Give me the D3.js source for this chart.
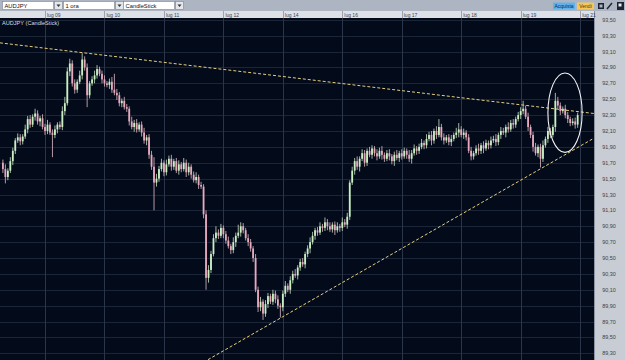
<!DOCTYPE html>
<html>
<head>
<meta charset="utf-8">
<script src="https://cdn.jsdelivr.net/npm/d3@7"></script>
<style>
  body { margin: 0; background: #030a1a; overflow: hidden; }
  svg { display: block; font-family: "Liberation Sans", Arial, sans-serif; }
</style>
</head>
<body>
<div id="container"></div>
<script>
// AUD/JPY, 1 ora - hourly closes
let firstOpen = 91.70;
let closes = [
  91.62, 91.52, 91.60, 91.72, 91.85, 91.98, 92.02, 91.97, 92.03, 92.12,
  92.25, 92.18, 92.28, 92.32, 92.22, 92.26, 92.15, 92.10, 92.18, 92.08,
  92.05, 92.12, 92.18, 92.15, 92.35, 92.45, 92.85, 92.95, 92.70, 92.62,
  92.72, 92.80, 93.00, 92.90, 92.55, 92.70, 92.75, 92.80, 92.88, 92.82,
  92.75, 92.70, 92.68, 92.72, 92.62, 92.58, 92.55, 92.45, 92.48, 92.40,
  92.38, 92.22, 92.15, 92.20, 92.12, 92.18, 92.08, 91.98, 92.02, 91.80,
  91.65, 91.45, 91.50, 91.62, 91.70, 91.58, 91.68, 91.75, 91.65, 91.72,
  91.60, 91.68, 91.62, 91.70, 91.58, 91.65, 91.55, 91.48, 91.52, 91.42,
  91.40, 91.05, 90.25, 90.35, 90.55, 90.75, 90.82, 90.78, 90.88, 90.80,
  90.72, 90.65, 90.60, 90.70, 90.78, 90.82, 90.90, 90.85, 90.75, 90.70,
  90.62, 90.50, 90.10, 89.88, 89.95, 89.80, 89.92, 90.02, 89.95, 90.05,
  89.98, 89.90, 89.88, 90.05, 90.15, 90.10, 90.22, 90.30, 90.28, 90.38,
  90.45, 90.42, 90.55, 90.62, 90.70, 90.78, 90.85, 90.82, 90.90, 90.88,
  90.95, 90.90, 90.86, 90.92, 90.85, 90.90, 90.88, 90.95, 90.92, 91.02,
  91.45, 91.60, 91.72, 91.65, 91.75, 91.82, 91.70, 91.85, 91.80, 91.88,
  91.82, 91.78, 91.85, 91.80, 91.75, 91.82, 91.78, 91.72, 91.80, 91.76,
  91.82, 91.78, 91.85, 91.80, 91.75, 91.82, 91.88, 91.85, 91.90, 91.95,
  91.92, 92.00, 92.05, 91.98, 92.10, 92.05, 92.15, 92.02, 91.98, 92.02,
  91.96, 92.00, 92.05, 92.08, 92.12, 92.05, 92.08, 92.02, 91.85, 91.78,
  91.82, 91.88, 91.85, 91.92, 91.88, 91.95, 91.92, 91.98, 92.00, 91.96,
  92.05, 92.10, 92.08, 92.15, 92.12, 92.20, 92.18, 92.25, 92.30, 92.35,
  92.38, 92.28, 92.15, 92.05, 91.90, 91.82, 91.90, 91.75, 91.92, 92.00,
  92.10, 92.05, 92.15, 92.48, 92.42, 92.35, 92.38, 92.30, 92.25, 92.20,
  92.22, 92.18, 92.30
];

// wick lengths above / below the body, in hundredths of a yen
let wickUp = [
  4,6,3,5,4,3,5,4,3,6,  4,5,3,6,4,3,5,4,6,3,  4,5,3,4,6,8,5,6,4,5,
  3,6,8,4,5,3,4,6,5,3,  4,5,3,4,6,20,5,4,3,5, 4,3,6,4,5,3,4,6,3,4,
  5,12,6,4,5,3,6,4,5,3, 4,5,3,6,4,5,3,4,6,3,  4,3,5,6,4,5,8,4,5,3,
  4,5,3,6,4,10,5,4,3,5, 4,3,5,4,6,3,5,4,3,5,  4,5,3,4,6,3,5,4,6,3,
  4,5,3,4,6,5,3,4,5,3,  6,4,5,3,4,5,3,6,4,5,  3,5,4,6,3,5,4,3,5,4,
  3,5,4,6,3,4,5,3,4,6,  3,5,4,3,6,4,5,3,4,5,  3,6,4,5,3,6,10,4,5,3,
  4,5,3,6,8,4,5,3,4,5,  3,4,6,3,5,4,3,5,4,6,  3,5,4,3,6,4,5,3,4,5,
  10,4,5,3,4,5,3,4,6,3, 5,4,3,10,5,4,3,5,4,3, 4,5,3
];
let wickDown = [
  5,8,4,3,5,4,3,5,4,3,  5,4,3,5,4,6,3,5,4,3,  28,4,5,3,4,5,3,6,4,5,
  4,3,5,4,15,4,3,5,4,3, 5,4,3,5,4,3,6,4,5,3,  4,5,3,6,4,3,5,4,6,5,
  4,35,5,4,3,5,4,3,5,4, 3,5,4,3,6,4,5,3,4,5,  3,5,15,6,4,3,5,4,3,5,
  4,3,5,4,6,3,5,4,3,5,  4,5,3,6,5,8,4,5,3,4,  5,4,13,5,4,3,5,4,3,5,
  4,3,5,4,6,3,5,4,3,5,  4,5,3,4,6,3,5,4,3,5,  4,3,5,4,6,3,5,4,3,5,
  4,5,3,6,4,3,5,4,6,3,  5,4,3,5,4,6,3,5,4,3,  5,4,3,6,4,5,3,4,5,3,
  4,5,3,4,6,3,5,4,3,5,  4,3,5,4,6,3,5,4,3,5,  4,5,3,6,4,3,5,4,3,5,
  4,3,5,4,6,3,5,11,4,3, 5,4,3,6,4,5,3,4,5,4,  3,5,4
];

let dayLabels = ["lug 09", "lug 10", "lug 11", "lug 12", "lug 14", "lug 16", "lug 17", "lug 18", "lug 19", "lug 21"];
let dayStart = [17, 41, 65, 89, 113, 137, 161, 185, 209, 233];
let priceTicks = [93.5, 93.3, 93.1, 92.9, 92.7, 92.5, 92.3, 92.1, 91.9, 91.7, 91.5, 91.3,
  91.1, 90.9, 90.7, 90.5, 90.3, 90.1, 89.9, 89.7, 89.5, 89.3];

// trend lines as [candle index, price]
let upperTrend = [[-1.2, 93.21], [238.6, 92.32]];
let lowerTrend = [[82.8, 89.22], [238.6, 92.01]];
let circled = { i: 226.9, p: 92.33, di: 6.9, dp: 0.5 };

let w = 625;
let h = 360;
let plotRight = 594;
let plotTop = 18;

let viz = d3.select("#container")
  .append("svg")
    .attr("width", w)
    .attr("height", h)
;

let x = d3.scaleLinear().domain([-1.17, 238.6]).range([0, plotRight]);
let y = d3.scaleLinear().domain([89.3, 93.3]).range([353.3, 35.7]);

viz.append("defs").append("clipPath").attr("id", "plot")
  .append("rect").attr("x", 0).attr("y", plotTop).attr("width", plotRight).attr("height", h - plotTop);

viz.append("rect").attr("width", w).attr("height", h).attr("fill", "#030a1a");

let plot = viz.append("g").attr("clip-path", "url(#plot)");

// grid
plot.selectAll(".hgrid").data(priceTicks).enter()
  .append("line")
    .attr("x1", 0).attr("x2", plotRight)
    .attr("y1", d => Math.round(y(d)) + 0.5).attr("y2", d => Math.round(y(d)) + 0.5)
    .attr("stroke", "#1b2538")
;
plot.selectAll(".vgrid").data(dayStart).enter()
  .append("line")
    .attr("x1", d => Math.round(x(d)) + 0.5).attr("x2", d => Math.round(x(d)) + 0.5)
    .attr("y1", plotTop).attr("y2", h)
    .attr("stroke", "#2a3549")
;

// candles
let candles = closes.map(function(c, i) {
  let o = i == 0 ? firstOpen : closes[i - 1];
  return {
    i: i, o: o, c: c,
    hi: Math.max(o, c) + (wickUp[i] || 0) / 100,
    lo: Math.min(o, c) - (wickDown[i] || 0) / 100
  };
});

let candle = plot.selectAll(".candle").data(candles).enter().append("g");
candle.append("line")
  .attr("x1", d => x(d.i)).attr("x2", d => x(d.i))
  .attr("y1", d => y(d.hi)).attr("y2", d => y(d.lo))
  .attr("stroke", d => d.c >= d.o ? "#b4c8b2" : "#c8a9b4")
  .attr("stroke-width", 0.9)
;
candle.append("rect")
  .attr("x", d => x(d.i) - 0.9)
  .attr("width", 1.8)
  .attr("y", d => y(Math.max(d.o, d.c)))
  .attr("height", d => Math.max(1, Math.abs(y(d.o) - y(d.c))))
  .attr("fill", d => d.c >= d.o ? "#c9f0c0" : "#e8a8bd")
;

// trend lines
let lineMaker = d3.line().x(d => x(d[0])).y(d => y(d[1]));
[upperTrend, lowerTrend].forEach(function(t) {
  plot.append("path")
    .attr("d", lineMaker(t))
    .attr("fill", "none")
    .attr("stroke", "#e6cf80")
    .attr("stroke-width", 1)
    .attr("stroke-dasharray", "3,2")
  ;
});

plot.append("ellipse")
  .attr("cx", x(circled.i)).attr("cy", y(circled.p))
  .attr("rx", x(circled.i + circled.di) - x(circled.i))
  .attr("ry", y(circled.p - circled.dp) - y(circled.p))
  .attr("fill", "none")
  .attr("stroke", "#f4f4f4")
  .attr("stroke-width", 1.1)
;

viz.append("text").attr("x", 2).attr("y", 25)
  .attr("fill", "#d8dce4").attr("font-size", 5.6)
  .text("AUDJPY (CandleStick)");

// right price axis
viz.append("rect").attr("x", plotRight).attr("y", 11).attr("width", w - plotRight).attr("height", h - 11)
  .attr("fill", "#c7ccd5");
viz.append("line").attr("x1", plotRight + 0.5).attr("x2", plotRight + 0.5).attr("y1", 11).attr("y2", h)
  .attr("stroke", "#8d94a0");
viz.selectAll(".ptick").data(priceTicks).enter()
  .append("text")
    .attr("x", 609).attr("y", d => y(d) + 2)
    .attr("text-anchor", "middle")
    .attr("font-size", 5.4)
    .attr("fill", "#3a3f48")
    .text(d => d3.format(".2f")(d).replace(".", ","))
;

// date strip
viz.append("rect").attr("x", 0).attr("y", 11).attr("width", plotRight).attr("height", 7).attr("fill", "#dde1e7");
viz.selectAll(".dsep").data(dayStart).enter()
  .append("line")
    .attr("x1", d => Math.round(x(d)) + 0.5).attr("x2", d => Math.round(x(d)) + 0.5)
    .attr("y1", 11).attr("y2", 18)
    .attr("stroke", "#9ca3ae")
;
viz.selectAll(".dlab").data(dayStart).enter()
  .append("text")
    .attr("x", d => x(d) + 2).attr("y", 16.5)
    .attr("font-size", 5)
    .attr("fill", "#3c4150")
    .text((d, i) => dayLabels[i])
;

// toolbar
viz.append("rect").attr("width", w).attr("height", 11).attr("fill", "#aeb5c2");
let boxes = [["AUDJPY", 2, 51], ["1 ora", 63, 51], ["CandleStick", 123, 51]];
boxes.forEach(function(b) {
  viz.append("rect").attr("x", b[1] + 0.5).attr("y", 1.5).attr("width", b[2]).attr("height", 8)
    .attr("fill", "#ffffff").attr("stroke", "#7d8590").attr("stroke-width", 0.6);
  viz.append("rect").attr("x", b[1] + b[2] + 1.5).attr("y", 1.5).attr("width", 8).attr("height", 8)
    .attr("fill", "#e4e7ec").attr("stroke", "#7d8590").attr("stroke-width", 0.6);
  viz.append("path")
    .attr("d", `M${b[1] + b[2] + 3.5},4.5 L${b[1] + b[2] + 7.5},4.5 L${b[1] + b[2] + 5.5},7 Z`)
    .attr("fill", "#333");
  viz.append("text").attr("x", b[1] + 2.5).attr("y", 7.8)
    .attr("font-size", 5.8).attr("fill", "#111").text(b[0]);
});

viz.append("rect").attr("x", 553).attr("y", 2.5).attr("width", 22).attr("height", 7).attr("fill", "#5fb2ea");
viz.append("text").attr("x", 564).attr("y", 8).attr("text-anchor", "middle")
  .attr("font-size", 5).attr("fill", "#0d2a55").text("Acquista");
viz.append("rect").attr("x", 577).attr("y", 2.5).attr("width", 17).attr("height", 7).attr("fill", "#f7c75a");
viz.append("text").attr("x", 585.5).attr("y", 8).attr("text-anchor", "middle")
  .attr("font-size", 5).attr("fill", "#5a3300").text("Vendi");

// the three little tool icons
viz.append("rect").attr("x", 598).attr("y", 3).attr("width", 6).attr("height", 6).attr("fill", "#1d2330");
viz.append("rect").attr("x", 599.5).attr("y", 4.5).attr("width", 3).attr("height", 3).attr("fill", "#aeb5c2");
viz.append("line").attr("x1", 607).attr("y1", 9).attr("x2", 612).attr("y2", 3)
  .attr("stroke", "#1d2330").attr("stroke-width", 1.4);
viz.append("rect").attr("x", 617).attr("y", 2).attr("width", 7).attr("height", 8).attr("fill", "#1d2330");
viz.append("rect").attr("x", 618.5).attr("y", 3.5).attr("width", 3).attr("height", 3).attr("fill", "#e8eaee");
</script>
</body>
</html>
